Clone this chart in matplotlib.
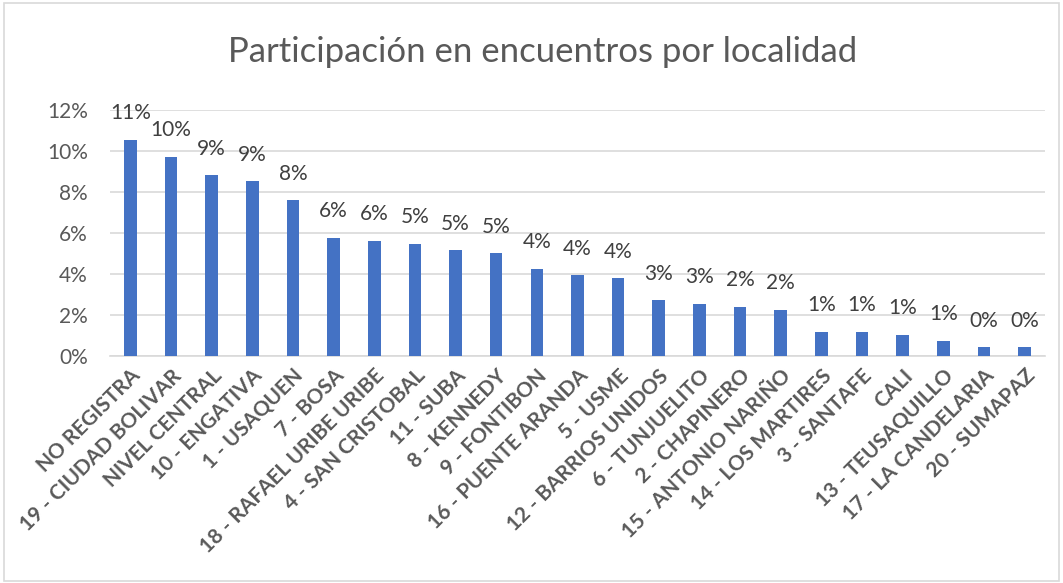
import matplotlib.pyplot as plt
import numpy as np
from matplotlib.patches import Rectangle

localidades = ['NO REGISTRA', '19 - CIUDAD BOLIVAR', 'NIVEL CENTRAL', '10 - ENGATIVA',
               '1 - USAQUEN', '7 - BOSA', '18 - RAFAEL URIBE URIBE', '4 - SAN CRISTOBAL',
               '11 - SUBA', '8 - KENNEDY', '9 - FONTIBON', '16 - PUENTE ARANDA',
               '5 - USME', '12 - BARRIOS UNIDOS', '6 - TUNJUELITO', '2 - CHAPINERO',
               '15 - ANTONIO NARIÑO', '14 - LOS MARTIRES', '3 - SANTAFE', 'CALI',
               '13 - TEUSAQUILLO', '17 - LA CANDELARIA', '20 - SUMAPAZ']
participacion = [10.52, 9.72, 8.80, 8.51, 7.58, 5.75, 5.62, 5.45, 5.15, 5.00, 4.24, 3.93,
                 3.78, 2.71, 2.55, 2.40, 2.24, 1.19, 1.19, 1.04, 0.73, 0.42, 0.42]
yticks = [0, 2, 4, 6, 8, 10, 12]

plt.rcParams['font.family'] = ['Lato', 'DejaVu Sans']

fig = plt.figure(figsize=(10.63, 5.83), dpi=100)
ax = fig.add_axes([0.1035, 0.3894, 0.8795, 0.4224])

x = np.arange(len(localidades))
vals = np.array(participacion) / 100
ax.bar(x, vals, width=0.31, color='#4472c4', zorder=3)

for xi, v in zip(x, participacion):
    ax.annotate('%d%%' % round(v), (xi, v / 100), xytext=(0, 12), textcoords='offset points',
                ha='center', va='bottom', fontsize=15, color='#404040')

ax.set_xlim(-0.5, len(localidades) - 0.5)
ax.set_ylim(0, 0.12)
ax.set_yticks([t / 100 for t in yticks])
ax.set_yticklabels(['%d%%' % t for t in yticks], fontsize=15, color='#595959')
ax.set_xticks(x)
ax.set_xticklabels(localidades, rotation=45, ha='right', rotation_mode='anchor',
                   fontsize=15, fontweight='bold', color='#595959')
ax.tick_params(axis='y', length=0, pad=16)
ax.tick_params(axis='x', length=0, pad=7)
ax.grid(axis='y', color='#d9d9d9', linewidth=1.2, zorder=0)
for s in ['top', 'right', 'left']:
    ax.spines[s].set_visible(False)
ax.spines['bottom'].set_color('#d9d9d9')
ax.spines['bottom'].set_linewidth(1.2)

fig.text(0.51, 0.91, 'Participación en encuentros por localidad', ha='center', va='center',
         fontsize=25, color='#595959')
fig.patches.append(Rectangle((0.004, 0.004), 0.992, 0.99, transform=fig.transFigure,
                             fill=False, edgecolor='#d9d9d9', linewidth=1.2))

fig.savefig('out.png', dpi=100)
